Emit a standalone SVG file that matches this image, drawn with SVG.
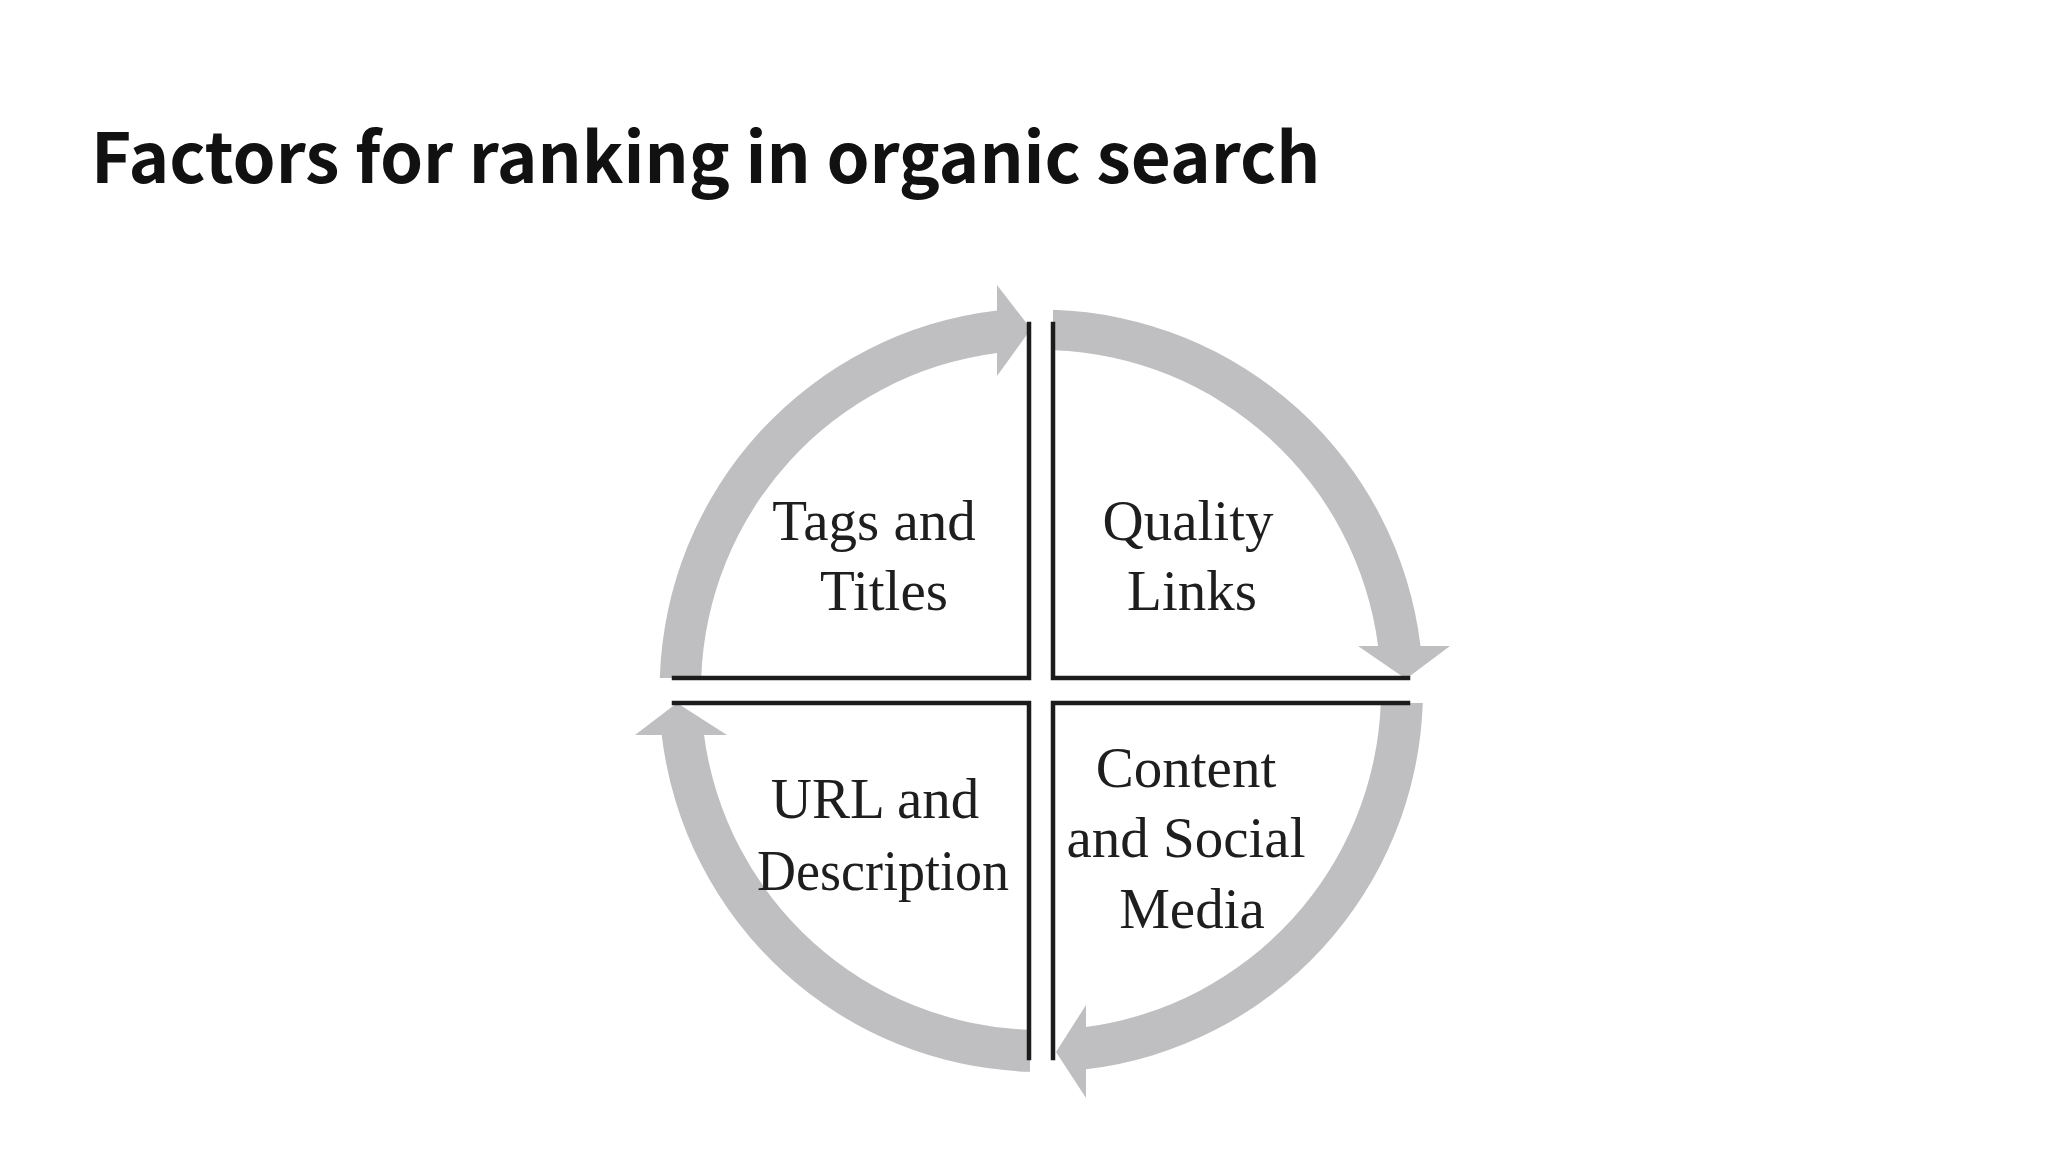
<svg xmlns="http://www.w3.org/2000/svg" width="2048" height="1152" viewBox="0 0 2048 1152">
<style>
.title{font-family:"Noto Sans CJK SC","Noto Sans",sans-serif;font-weight:700;font-size:69px;fill:#111}
.lbl{font-family:"Liberation Serif","Times New Roman",serif;font-size:57px;fill:#1e1e1e;text-anchor:middle}
.edge{fill:none;stroke:#1c1c1c;stroke-width:4.5;stroke-linecap:square}
.arc{fill:#bfbfc1;stroke:none}
</style>
<rect width="2048" height="1152" fill="#ffffff"/>
<text class="title" x="91" y="183">Factors for ranking in organic search</text>
<g id="connectors">
<path class="arc" d="M 659.8,678 A 382 382 0 0 1 997,310.5 L 997,285 L 1031,329 L 997,376 L 997,352.9 A 340 340 0 0 0 701.2,678 Z"/>
<path class="arc" d="M 1053,309.8 A 382 382 0 0 1 1420.5,646 L 1450,646 L 1406,679 L 1358,646 L 1378.1,646 A 340 340 0 0 0 1053,350.2 Z"/>
<path class="arc" d="M 1422.8,703 A 382 382 0 0 1 1086,1069.3 L 1086,1098 L 1056,1052 L 1086,1005 L 1086,1027 A 340 340 0 0 0 1380.8,703 Z"/>
<path class="arc" d="M 1030,1071.8 A 382 382 0 0 1 661.7,735 L 635,735 L 677,703 L 727,735 L 704,735 A 340 340 0 0 0 1030,1029.8 Z"/>
</g>
<g id="tags-and-titles">
<path class="edge" d="M 674,678 H 1029 V 324"/>
<text class="lbl" x="874" y="540">Tags and</text>
<text class="lbl" x="884" y="610">Titles</text>
</g>
<g id="quality-links">
<path class="edge" d="M 1053,324 V 678 H 1408"/>
<text class="lbl" x="1188" y="540">Quality</text>
<text class="lbl" x="1192" y="610">Links</text>
</g>
<g id="url-and-description">
<path class="edge" d="M 674,703 H 1029 V 1058"/>
<text class="lbl" x="875" y="818">URL and</text>
<text class="lbl" x="883" y="890" textLength="252" lengthAdjust="spacingAndGlyphs">Description</text>
</g>
<g id="content-and-social-media">
<path class="edge" d="M 1053,1058 V 703 H 1408"/>
<text class="lbl" x="1186" y="787">Content</text>
<text class="lbl" x="1186" y="857">and Social</text>
<text class="lbl" x="1192" y="928">Media</text>
</g>
</svg>
